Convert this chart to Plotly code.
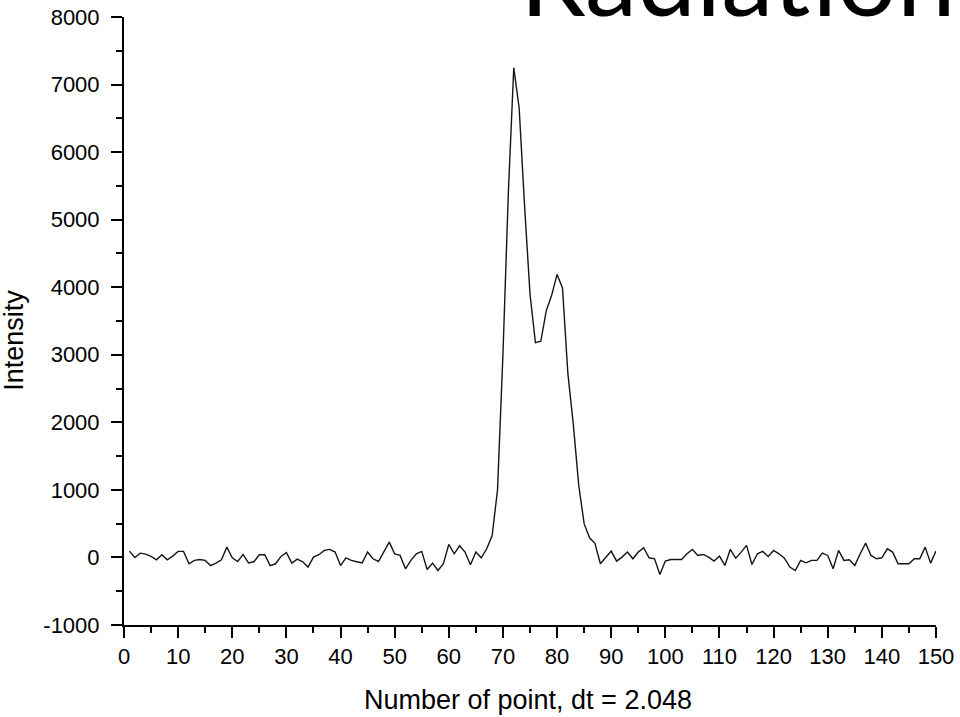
import plotly.graph_objects as go

# Sample index (1..150) and measured intensity
point_index = list(range(1, 151))
intensity = [
    94, 0, 64, 50, 15, -35, 40, -35, 20, 90,
    90, -94, -44, -30, -44, -120, -84, -35, 153, -5,
    -60, 45, -80, -64, 40, 40, -120, -94, 15, 74,
    -84, -25, -64, -143, 5, 40, 104, 119, 80, -120,
    -5, -44, -64, -80, 80, -20, -60, 80, 227, 54,
    30, -168, -44, 54, 90, -178, -84, -193, -94, 193,
    54, 173, 80, -109, 80, -5, 128, 320, 1000, 3000,
    5400, 7250, 6650, 5200, 3900, 3180, 3200, 3650, 3880, 4190,
    3990, 2720, 1970, 1070, 500, 290, 210, -94, 5, 94,
    -54, 5, 79, -20, 79, 143, -5, -20, -252, -54,
    -30, -30, -30, 54, 119, 30, 44, 5, -54, 20,
    -118, 119, -10, 79, 178, -104, 54, 89, 15, 104,
    54, -10, -143, -193, -44, -79, -44, -44, 64, 30,
    -168, 104, -44, -35, -118, 54, 212, 30, -20, -5,
    128, 79, -94, -94, -94, -20, -20, 153, -84, 94,
]

x_ticks = list(range(0, 151, 10))
y_ticks = list(range(-1000, 8001, 1000))
y_tick_text = ["-1000"] + [str(v) for v in y_ticks[1:]]

font_family = "Liberation Sans, Arial, sans-serif"

fig = go.Figure()
fig.add_trace(go.Scatter(
    x=point_index, y=intensity, mode="lines",
    line=dict(color="#151515", width=1.4),
    showlegend=False,
))

axis_common = dict(
    showgrid=False, zeroline=False, showline=True, automargin=False,
    linecolor="black", linewidth=2, mirror=False,
    ticks="outside", ticklen=11, tickwidth=2, tickcolor="black",
    tickfont=dict(family=font_family, size=22, color="black"),
)

fig.update_xaxes(
    range=[0, 150], tickvals=x_ticks,
    minor=dict(dtick=5, ticks="outside", ticklen=6, tickwidth=2, tickcolor="black"),
    **axis_common,
)
fig.update_yaxes(
    range=[-1000, 8000], tickvals=y_ticks, ticktext=y_tick_text,
    minor=dict(dtick=500, ticks="outside", ticklen=6, tickwidth=2, tickcolor="black"),
    ticklabelstandoff=7,
    **axis_common,
)

# Axis titles
fig.add_annotation(
    text="Number of point, dt = 2.048", xref="paper", yref="paper",
    x=0.497, y=-0.123, xanchor="center", yanchor="middle", showarrow=False,
    font=dict(family=font_family, size=27, color="black"),
)
fig.add_annotation(
    text="Intensity", xref="paper", yref="paper", textangle=-90,
    x=-0.1355, y=0.469, xanchor="center", yanchor="middle", showarrow=False,
    font=dict(family=font_family, size=27, color="black"),
)

# Slide heading, running off the top edge
fig.add_annotation(
    text="Radiation", xref="paper", yref="paper",
    x=0.485, y=0.9625, xanchor="left", yanchor="bottom",
    showarrow=False,
    font=dict(family="Lato, Open Sans, sans-serif", size=105, color="black"),
)

fig.update_layout(
    width=960, height=717,
    margin=dict(l=124, r=24, t=17, b=92),
    plot_bgcolor="white", paper_bgcolor="white",
)

fig.write_html("out.html")
